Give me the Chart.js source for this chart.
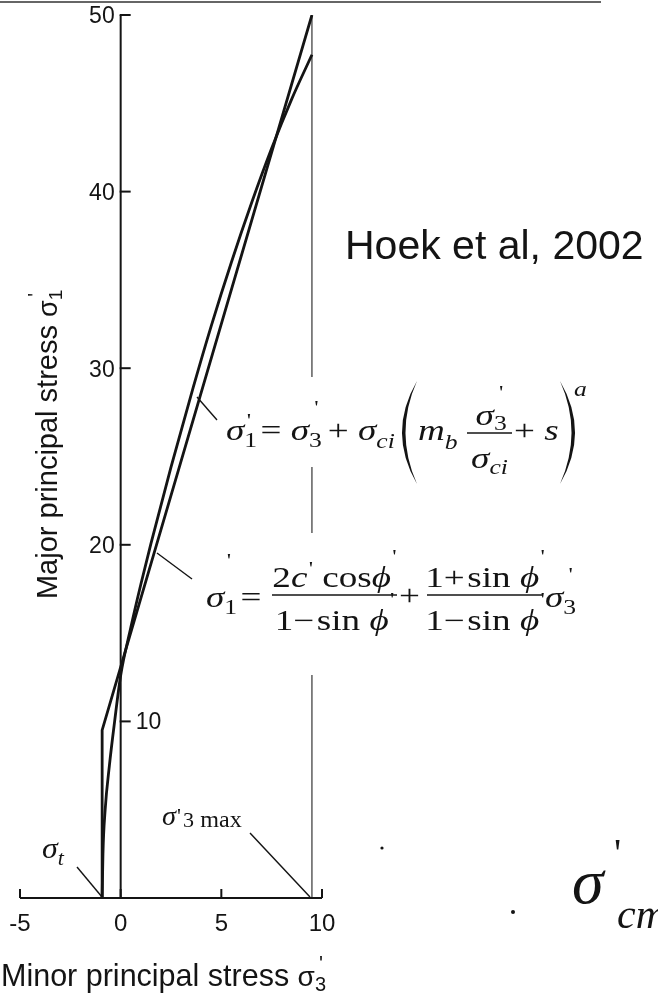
<!DOCTYPE html>
<html>
<head>
<meta charset="utf-8">
<title>Hoek-Brown and equivalent Mohr-Coulomb envelopes</title>
<script src="https://cdn.jsdelivr.net/npm/chart.js@4.4.1/dist/chart.umd.min.js"></script>
<style>
  html, body { margin: 0; padding: 0; background: #fff; }
  canvas { display: block; }
</style>
</head>
<body>
<canvas id="stressChart" width="658" height="998"></canvas>
<script>
// Hoek-Brown envelope: minor (sigma3') vs major (sigma1') principal stress
const hbSigma3 = [-0.92, -0.88, -0.77, -0.56, -0.3, 0, 0.5, 1, 1.5, 2.5, 3.6, 4.5, 5.5, 6.5, 7.5, 8.5, 9.5];
const hbSigma1 = [0, 2.5, 5, 7.5, 10, 12.6, 15.3, 17.75, 20.05, 24.4, 28.9, 32.4, 36.0, 39.35, 42.45, 45.25, 47.75];

// equivalent Mohr-Coulomb line, with tension cut-off at sigma_t
const mcSigma3 = [-0.92, -0.92, 9.5];
const mcSigma1 = [0, 9.5, 50];

// upper limit of confining stress used for the fit
const sigma3max = 9.5;
const sigma1Top = 50;

const xTicks = [-5, 0, 5, 10];
const yTicks = [10, 20, 30, 40, 50];
const yTicksOnRight = [10];

const SANS = '"Liberation Sans", Arial, sans-serif';
const SERIF = '"Liberation Serif", "Times New Roman", serif';
const it = (s) => `italic ${s}px ${SERIF}`;
const rm = (s) => `${s}px ${SERIF}`;
const sf = (s) => `${s}px ${SANS}`;
const INK = "#141414";
const EQ_SX = 1.28; // formulas are set slightly wide

const toPoints = (xs, ys) => xs.map((v, i) => ({ x: v, y: ys[i] }));

// draws text pieces left to right: [text, font, dy, dx]
function drawRun(ctx, parts, x, y, sx = 1) {
  ctx.save();
  ctx.translate(x, y);
  ctx.scale(sx, 1);
  let cx = 0;
  for (const [t, font, dy = 0, dx = 0] of parts) {
    ctx.font = font;
    cx += dx;
    ctx.fillText(t, cx, dy);
    cx += ctx.measureText(t).width;
  }
  ctx.restore();
  return x + cx * sx;
}

function runWidth(ctx, parts, sx = 1) {
  let w = 0;
  for (const [t, font, , dx = 0] of parts) {
    ctx.font = font;
    w += dx + ctx.measureText(t).width;
  }
  return w * sx;
}

function segment(ctx, x1, y1, x2, y2, w) {
  ctx.lineWidth = w;
  ctx.beginPath();
  ctx.moveTo(x1, y1);
  ctx.lineTo(x2, y2);
  ctx.stroke();
}

function fraction(ctx, num, den, left, right, barY) {
  const c = (left + right) / 2;
  drawRun(ctx, num, c - runWidth(ctx, num, EQ_SX) / 2, barY - 8, EQ_SX);
  drawRun(ctx, den, c - runWidth(ctx, den, EQ_SX) / 2, barY + 35, EQ_SX);
  segment(ctx, left, barY, right, barY, 1.3);
}

// tall bracket as a filled crescent
function paren(ctx, x, top, bottom, dir) {
  const mid = (top + bottom) / 2;
  ctx.beginPath();
  ctx.moveTo(x, top);
  ctx.quadraticCurveTo(x - dir * 30, mid, x, bottom);
  ctx.quadraticCurveTo(x - dir * 23, mid, x, top);
  ctx.fill();
}

const figureDecor = {
  id: "figureDecor",
  afterDatasetsDraw(chart) {
    const { ctx, scales: { x, y } } = chart;
    const x0 = x.getPixelForValue(0);
    const yB = y.getPixelForValue(0);
    ctx.save();

    // clear space behind the two formulas
    ctx.fillStyle = "#fff";
    ctx.fillRect(222, 377, 372, 90);
    ctx.fillRect(200, 533, 386, 142);

    ctx.strokeStyle = INK;
    ctx.fillStyle = INK;

    // axes
    segment(ctx, x.getPixelForValue(xTicks[0]), yB, x.getPixelForValue(xTicks[xTicks.length - 1]), yB, 2);
    segment(ctx, x0, yB, x0, y.getPixelForValue(yTicks[yTicks.length - 1]), 2);

    // x ticks point up into the plot
    ctx.font = sf(24);
    ctx.textAlign = "center";
    ctx.textBaseline = "alphabetic";
    xTicks.forEach((v) => {
      const px = x.getPixelForValue(v);
      segment(ctx, px, yB, px, yB - 9, 2);
      ctx.fillText(String(v), px, 931);
    });

    // y ticks point right
    ctx.font = sf(23);
    ctx.textBaseline = "middle";
    yTicks.forEach((v) => {
      const py = y.getPixelForValue(v);
      segment(ctx, x0 - 1, py, x0 + 10, py, 2);
      if (yTicksOnRight.includes(v)) {
        ctx.textAlign = "left";
        ctx.fillText(String(v), x0 + 15, py + 1);
      } else {
        ctx.textAlign = "right";
        ctx.fillText(String(v), x0 - 6, py + 2);
      }
    });

    ctx.textAlign = "left";
    ctx.textBaseline = "alphabetic";

    // axis titles
    const yTitle = [["Major principal stress ", sf(29)], ["σ", sf(27)], ["1", sf(19), 5], ["'", sf(20), -15, -7]];
    ctx.save();
    ctx.translate(57, 446);
    ctx.rotate(-Math.PI / 2);
    drawRun(ctx, yTitle, -runWidth(ctx, yTitle) / 2, 0);
    ctx.restore();

    drawRun(ctx, [["Minor principal stress ", sf(30.5)], ["σ", sf(28)], ["3", sf(20), 5], ["'", sf(21), -16, -7]], 1, 986);

    ctx.font = sf(41);
    ctx.fillText("Hoek et al, 2002", 345, 259);

    // leader lines
    segment(ctx, 197, 397, 217, 420, 1.4);
    segment(ctx, 157, 553, 192, 579, 1.4);
    segment(ctx, 77, 867, 102, 897, 1.4);
    segment(ctx, 250, 833, 310, 897, 1.4);

    // Hoek-Brown formula
    drawRun(ctx, [
      ["σ", it(29)], ["1", rm(20), 7], ["'", rm(19), -13, -8],
      [" = ", rm(29)],
      ["σ", it(29)], ["3", rm(20), 7], ["'", rm(19), -26, -6],
      [" + ", rm(29)],
      ["σ", it(29)], ["ci", it(20), 8],
    ], 226, 440, EQ_SX);
    paren(ctx, 417, 381, 484, 1);
    drawRun(ctx, [["m", it(29)], ["b", it(20), 9]], 418, 440, EQ_SX);
    fraction(ctx,
      [["σ", it(29)], ["3", rm(20), 5], ["'", rm(19), -26, -6]],
      [["σ", it(29)], ["ci", it(20), 6]],
      467, 512, 433);
    drawRun(ctx, [["+ ", rm(29)], ["s", it(29)]], 514, 440, EQ_SX);
    paren(ctx, 560, 381, 484, -1);
    drawRun(ctx, [["a", it(20)]], 574, 396, EQ_SX);

    // Mohr-Coulomb formula
    drawRun(ctx, [["σ", it(29)], ["1", rm(20), 7], ["'", rm(19), -40, -8], [" =", rm(29)]], 206, 607, EQ_SX);
    const oneMinusSin = [["1", rm(29)], ["−", rm(29)], ["sin ", rm(29), 0, 2], ["ϕ", it(29)], ["'", rm(19), -24, 1]];
    fraction(ctx,
      [["2", rm(29)], ["c", it(29)], ["'", rm(19), -12, 1], [" cos", rm(29)], ["ϕ", it(29)], ["'", rm(19), -24, 1]],
      oneMinusSin, 272, 397, 595);
    drawRun(ctx, [["+", rm(29)]], 399, 605, EQ_SX);
    fraction(ctx,
      [["1", rm(29)], ["+", rm(29)], ["sin ", rm(29), 0, 2], ["ϕ", it(29)], ["'", rm(19), -24, 1]],
      oneMinusSin, 427, 543, 595);
    drawRun(ctx, [["σ", it(29)], ["3", rm(20), 7], ["'", rm(19), -26, -6]], 545, 607, EQ_SX);

    // sigma_t and sigma'_3max labels
    drawRun(ctx, [["σ", it(29)], ["t", it(20), 7]], 42, 858, 1.1);
    drawRun(ctx, [["σ", it(27)], ["'", rm(21), -2, 1], ["3", rm(21), 2, 2], [" max", rm(23), 2]], 162, 825, 1.05);

    // sigma'_cm
    drawRun(ctx, [["σ", it(64)]], 572, 903);
    drawRun(ctx, [["'", rm(40)]], 614, 866);
    drawRun(ctx, [["cm", it(42)]], 617, 928);

    // stray specks
    ctx.beginPath(); ctx.arc(382, 848, 1.6, 0, Math.PI * 2); ctx.fill();
    ctx.beginPath(); ctx.arc(513, 912, 2, 0, Math.PI * 2); ctx.fill();

    // rule across the top
    ctx.strokeStyle = "#666";
    segment(ctx, 0, 2, 601, 2, 2);

    ctx.restore();
  },
};

new Chart(document.getElementById("stressChart"), {
  type: "scatter",
  data: {
    datasets: [
      {
        label: "Hoek-Brown",
        data: toPoints(hbSigma3, hbSigma1),
        showLine: true,
        borderColor: INK,
        borderWidth: 2.8,
        pointRadius: 0,
        cubicInterpolationMode: "monotone",
      },
      {
        label: "Mohr-Coulomb",
        data: toPoints(mcSigma3, mcSigma1),
        showLine: true,
        borderColor: INK,
        borderWidth: 2.8,
        pointRadius: 0,
        tension: 0,
      },
      {
        label: "sigma3max",
        data: [{ x: sigma3max, y: 0 }, { x: sigma3max, y: sigma1Top }],
        showLine: true,
        borderColor: "#444",
        borderWidth: 1.3,
        pointRadius: 0,
      },
    ],
  },
  options: {
    responsive: false,
    animation: false,
    layout: { padding: { left: 20, right: 336, top: 15, bottom: 100 } },
    scales: {
      x: { type: "linear", min: -5, max: 10, display: false },
      y: { type: "linear", min: 0, max: 50, display: false },
    },
    plugins: { legend: { display: false }, tooltip: { enabled: false } },
  },
  plugins: [figureDecor],
});
</script>
</body>
</html>
